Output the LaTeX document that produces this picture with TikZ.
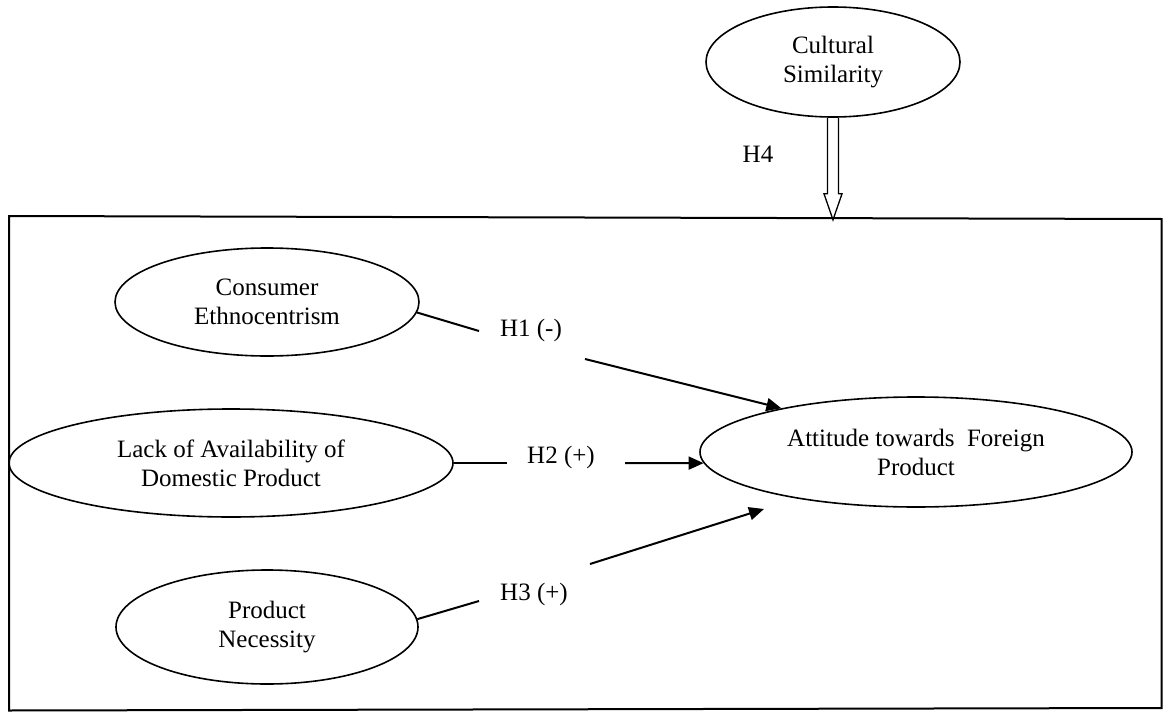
\documentclass[tikz,border=0pt]{standalone}
\usepackage{fontspec}
\setmainfont{Liberation Serif}
\usetikzlibrary{shapes.geometric,arrows.meta,calc}
\begin{document}
\begin{tikzpicture}[x=1pt,y=-1pt,
  construct/.style={ellipse,draw,line width=1.6pt,inner sep=0pt,align=center,
    font=\fontsize{25}{29}\selectfont},
  hlabel/.style={font=\fontsize{25}{29}\selectfont,anchor=base,inner sep=0pt},
  link/.style={line width=2pt},
  arrowlink/.style={line width=2pt,-{Triangle[length=15pt,width=13pt]}},
  hollow/.style={line width=1.3pt,line join=miter}]
\useasboundingbox (0,0) rectangle (1163,712);
% frame
\draw[line width=2pt] (9,216) -- (1161.5,219) -- (1161.5,708) -- (9,710.5) -- cycle;
% constructs
\node[construct,minimum width=254pt,minimum height=110pt] (cs) at (833,62) {Cultural\\Similarity};
\node[construct,minimum width=304pt,minimum height=108pt] (ce) at (267,302) {Consumer\\Ethnocentrism};
\node[construct,minimum width=444pt,minimum height=108pt] (la) at (231,463) {Lack of Availability of\\Domestic Product};
\node[construct,minimum width=302pt,minimum height=114pt] (pn) at (267,627) {Product\\Necessity};
\node[construct,minimum width=432pt,minimum height=110pt] (att) at (916,452) {Attitude towards\ \ Foreign\\Product};
% labels
\node[hlabel] (h1) at (531,336) {H1 (-)};
\node[hlabel] (h2) at (561,463) {H2 (+)};
\node[hlabel] (h3) at (534,600) {H3 (+)};
\node[hlabel] (h4) at (758,162) {H4};
% connector ends
\coordinate (h1a) at (479,331);
\coordinate (h1b) at (585,359);
\coordinate (h2a) at (507,463);
\coordinate (h2b) at (625,463);
\coordinate (h3a) at (479,601);
\coordinate (h3b) at (590,564);
\coordinate (h3t) at (764,509);
% H1
\draw[link] (ce.-4) -- (h1a);
\draw[arrowlink] (h1b) -- (att.162);
% H2
\draw[link] (la.east) -- (h2a);
\draw[arrowlink] (h2b) -- (att.183);
% H3
\draw[link] (pn.3) -- (h3a);
\draw[arrowlink] (h3b) -- (h3t);
% H4 hollow arrow
\draw[hollow] ([xshift=-5.5pt]cs.south) -- ++(0,76) -- ++(-3.5,0) -- ++(9,26) -- ++(9,-26) -- ++(-3.5,0) -- ++(0,-76);
\end{tikzpicture}
\end{document}
